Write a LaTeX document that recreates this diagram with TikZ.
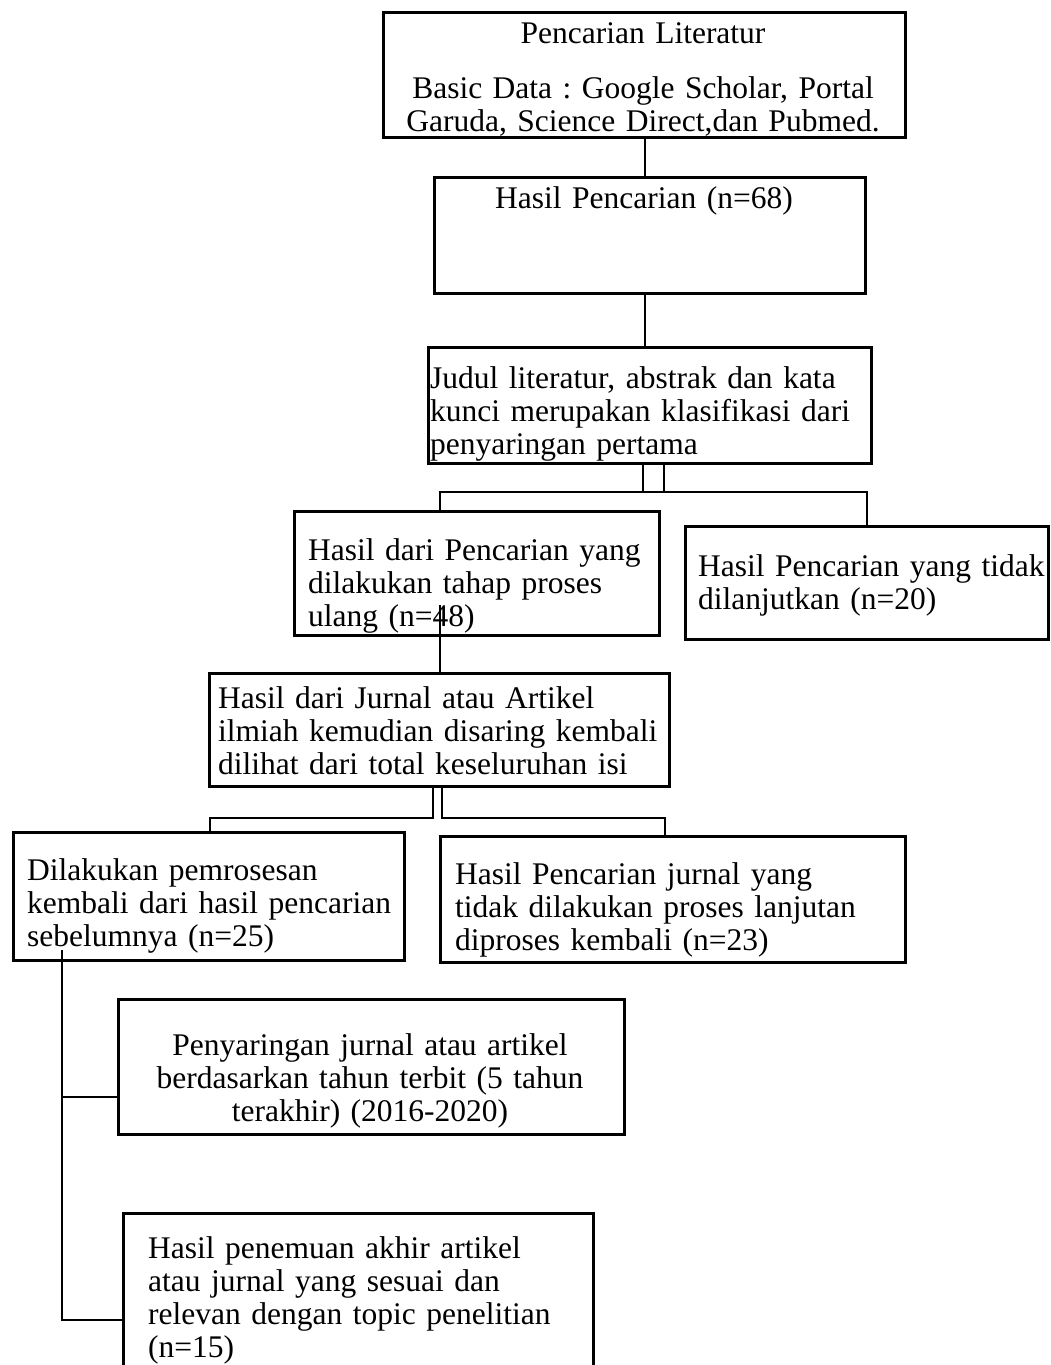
\documentclass[tikz,border=0pt]{standalone}
\usepackage{fontspec}
\setmainfont{Liberation Serif}
\begin{document}
\begin{tikzpicture}[x=1pt, y=-1pt,
    box/.style={draw, line width=3.4pt, inner sep=0pt, anchor=north west},
    txt/.style={inner sep=0pt, anchor=base west, align=left, font=\fontsize{31.5}{33}\selectfont\frenchspacing},
    ctxt/.style={txt, anchor=base, align=center},
    link/.style={line width=2pt}]
    % Fix the page size
    \clip (0,0) rectangle (1051,1365);

    % Draw the boxes
    \node[box, minimum width=522pt, minimum height=125pt] (lit) at (382,11) {};
    \node[box, minimum width=431pt, minimum height=116pt] (res) at (433,176) {};
    \node[box, minimum width=443pt, minimum height=116pt] (screenA) at (427,346) {};
    \node[box, minimum width=365pt, minimum height=124pt] (keep) at (293,510) {};
    \node[box, minimum width=363pt, minimum height=113pt] (dropA) at (684,525) {};
    \node[box, minimum width=460pt, minimum height=113pt] (screenB) at (208,672) {};
    \node[box, minimum width=391pt, minimum height=128pt] (redo) at (12,831) {};
    \node[box, minimum width=465pt, minimum height=126pt] (dropB) at (439,835) {};
    \node[box, minimum width=506pt, minimum height=135pt] (year) at (117,998) {};
    \node[box, minimum width=470pt, minimum height=200pt] (final) at (122,1212) {};

    % Put the texts in the boxes
    \node[ctxt, text width=520pt] (litT) at (643,43)
        {Pencarian Literatur\\[22pt]Basic Data : Google Scholar, Portal\\Garuda, Science Direct,dan Pubmed.};
    \node[ctxt, text width=420pt] (resT) at (644,208) {Hasil Pencarian (n=68)};
    \node[txt, text width=500pt] (screenAT) at (430,388)
        {Judul literatur, abstrak dan kata\\kunci merupakan klasifikasi dari\\penyaringan pertama};
    \node[txt, text width=450pt] (keepT) at (308,560)
        {Hasil dari Pencarian yang\\dilakukan tahap proses\\ulang (n=48)};
    \node[txt, text width=450pt] (dropAT) at (698,576)
        {Hasil Pencarian yang tidak\\dilanjutkan (n=20)};
    \node[txt, text width=500pt] (screenBT) at (218,708)
        {Hasil dari Jurnal atau Artikel\\ilmiah kemudian disaring kembali\\dilihat dari total keseluruhan isi};
    \node[txt, text width=450pt] (redoT) at (27,880)
        {Dilakukan pemrosesan\\kembali dari hasil pencarian\\sebelumnya (n=25)};
    \node[txt, text width=500pt] (dropBT) at (455,884)
        {Hasil Pencarian jurnal yang\\tidak dilakukan proses lanjutan\\diproses kembali (n=23)};
    \node[ctxt, text width=500pt] (yearT) at (370,1055)
        {Penyaringan jurnal atau artikel\\berdasarkan tahun terbit (5 tahun\\terakhir) (2016-2020)};
    \node[txt, text width=500pt] (finalT) at (148,1258)
        {Hasil penemuan akhir artikel\\atau jurnal yang sesuai dan\\relevan dengan topic penelitian\\(n=15)};

    % Junction points of the connectors
    \coordinate (splitA) at (643,492);
    \coordinate (splitAb) at (664,492);
    \coordinate (leftA) at (440,492);
    \coordinate (rightA) at (867,492);
    \coordinate (tailA) at (440,605);
    \coordinate (splitB) at (433,818);
    \coordinate (leftB) at (210,818);
    \coordinate (splitBb) at (442,818);
    \coordinate (rightB) at (665,818);
    \coordinate (tailB) at (62,950);
    \coordinate (midB) at (62,1097);
    \coordinate (endB) at (62,1320);

    % Draw the connectors
    \draw[link] (lit.south) -- (lit.south |- res.north);
    \draw[link] (lit.south |- res.south) -- (lit.south |- screenA.north);
    \draw[link] (splitA |- screenA.south) -- (splitA);
    \draw[link] (splitAb |- screenA.south) -- (splitAb);
    \draw[link] (leftA |- keep.north) -- (leftA) -- (rightA) -- (rightA |- dropA.north);
    \draw[link] (tailA) -- (tailA |- screenB.north);
    \draw[link] (splitB |- screenB.south) -- (splitB) -- (leftB) -- (leftB |- redo.north);
    \draw[link] (splitBb |- screenB.south) -- (splitBb) -- (rightB) -- (rightB |- dropB.north);
    \draw[link] (tailB) -- (endB) -- (endB -| final.west);
    \draw[link] (midB) -- (midB -| year.west);
\end{tikzpicture}
\end{document}
